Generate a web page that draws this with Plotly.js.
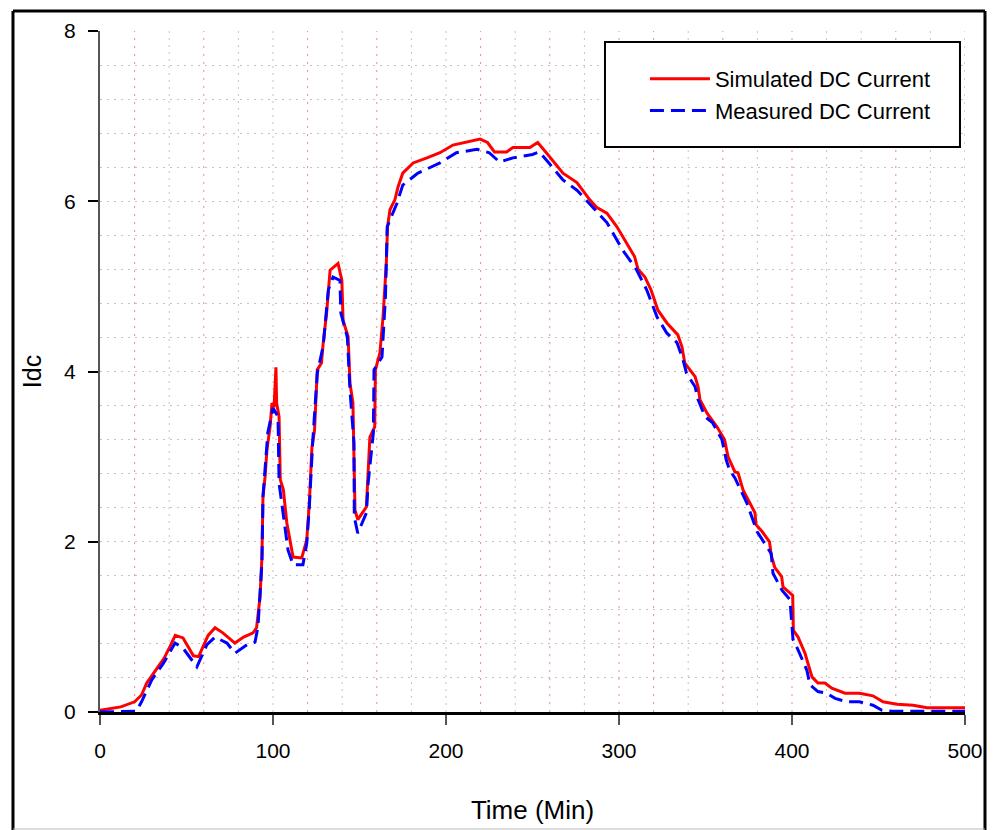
<!DOCTYPE html>
<html>
<head>
<meta charset="utf-8">
<script src="https://cdn.plot.ly/plotly-3.0.1.min.js"></script>
<style>html,body{margin:0;padding:0;background:#fff;}#chart{width:996px;height:830px;}</style>
</head>
<body>
<div id="chart"></div>
<script>
// Simulated DC Current (red, solid)
const simX = [0,12,20,24,27,32,37,40.5,43.5,48,
  54,57,62.5,66.5,71,78,83,88.5,90.5,92.5,
  93.6,94.2,95.4,96.5,98.3,99.4,100.6,101.7,102.1,103.5,
  104.2,106,108,111.6,116.6,119.5,121,122.5,124,125.6,
  128,129,131,133,137.6,139.8,140.5,143.4,144.5,146.2,
  147.4,149,154,156,158.8,159.2,161.8,163.6,165.5,166.2,
  167.6,170.5,172.3,175,181,189,196.5,204,212,219.7,
  224,228,235,238.7,248.5,253,258,267.6,275.7,283,
  287,293,298.8,304.6,309,311,315,318.5,322.5,327.7,
  334,336.4,338,341,344,345.7,346.8,350.9,356.6,361,
  363,367,368.8,371.7,374.6,378.6,379.2,382.7,387,388,
  390,394,394.8,400.4,400.8,403.5,407.5,409,411.6,415,
  419,423,430.6,439,446.8,452.6,460.7,470,478,500];
const simY = [0.02,0.06,0.12,0.2,0.34,0.49,0.63,0.77,0.9,0.87,
  0.66,0.65,0.9,0.99,0.93,0.81,0.88,0.93,0.99,1.35,
  1.82,2.53,2.76,3.08,3.35,3.63,3.58,4.05,3.63,3.47,
  2.73,2.61,2.22,1.82,1.81,2.02,2.45,3.11,3.31,4.02,
  4.1,4.33,4.69,5.19,5.27,5.07,4.6,4.41,3.86,3.63,
  2.37,2.26,2.41,3.23,3.35,4.02,4.22,4.64,5.27,5.7,
  5.9,6.02,6.17,6.33,6.45,6.51,6.57,6.66,6.70,6.73,
  6.69,6.58,6.58,6.63,6.63,6.69,6.57,6.33,6.22,6.02,
  5.93,5.86,5.7,5.51,5.35,5.2,5.11,4.96,4.72,4.57,
  4.43,4.29,4.1,4.02,3.94,3.82,3.67,3.51,3.35,3.2,
  3.0,2.82,2.81,2.61,2.49,2.34,2.2,2.12,2.0,1.84,
  1.70,1.59,1.47,1.37,0.96,0.88,0.69,0.59,0.41,0.34,
  0.34,0.28,0.22,0.22,0.19,0.12,0.09,0.08,0.05,0.05];

// Measured DC Current (blue, dashed)
const measX = [0,21,24,30,36.6,43.4,48,56,61.8,66.5,
  73.4,78,85,89.6,91.3,93.6,94.2,97,100,102.9,
  103.5,108.7,111.6,117.3,119.5,121,123,125.6,129,132,
  134.7,138.7,139.2,143,144.5,146.8,147,149,154,155,
  158,158.4,163,165,166,171.7,175,183.8,196.5,206,
  217.9,225,231,238.7,250,254,259,267.6,275.7,285,
  293,302,310,316,322,327.7,333.5,337,339,344,
  345.7,349.7,354,359.5,362,364,367,374,377.5,379.8,
  385.5,388,389,394.2,398.8,400.6,403.5,408.6,410.4,415,
  420,424.9,431.8,439,446.8,452,458,500];
const measY = [0,0.01,0.12,0.38,0.57,0.81,0.75,0.53,0.79,0.88,
  0.81,0.69,0.79,0.82,1.0,1.75,2.53,3.28,3.57,3.47,
  2.69,1.9,1.73,1.73,1.98,2.41,3.19,3.98,4.3,4.96,
  5.11,5.07,4.69,4.4,3.78,3.16,2.29,2.1,2.34,2.69,
  3.28,4.02,4.17,4.88,5.7,5.98,6.19,6.33,6.45,6.57,
  6.61,6.57,6.46,6.51,6.55,6.58,6.46,6.25,6.13,5.93,
  5.75,5.43,5.2,4.96,4.64,4.45,4.34,4.14,3.98,3.82,
  3.67,3.47,3.4,3.2,2.96,2.84,2.75,2.45,2.26,2.12,
  1.94,1.86,1.63,1.43,1.32,0.85,0.73,0.49,0.32,0.24,
  0.22,0.16,0.12,0.12,0.08,0.02,0.01,0.01];

const xTickVals = [0,100,200,300,400,500];
const yTickVals = [0,2,4,6,8];
const redGridX = [20,60,120,160,220,260,300,320,360,400,460,500];
const grayGridX = [40,80,100,140,180,200,240,280,340,380,420,440,480];

const FONT = 'Arial, "Liberation Sans", sans-serif';

const shapes = [];
grayGridX.forEach(v => shapes.push({type:'line', xref:'x', yref:'paper', x0:v, x1:v, y0:0, y1:1,
  layer:'below', line:{color:'#c4c4c4', width:1, dash:'2px,5px'}}));
redGridX.forEach(v => shapes.push({type:'line', xref:'x', yref:'paper', x0:v, x1:v, y0:0, y1:1,
  layer:'below', line:{color:'#ee8a8a', width:1, dash:'2px,6px'}}));
// legend box
shapes.push({type:'rect', xref:'paper', yref:'paper', x0:0.5838, x1:0.9942, y0:0.8297, y1:0.9839,
  layer:'above', fillcolor:'#ffffff', line:{color:'#000', width:2}});
// outer frame
shapes.push({type:'line', xref:'paper', yref:'paper', x0:-0.1006, x1:-0.1006, y0:-0.175, y1:1.0294, line:{color:'#000', width:3}});
shapes.push({type:'line', xref:'paper', yref:'paper', x0:-0.1006, x1:1.0231, y0:1.0294, y1:1.0294, line:{color:'#000', width:3}});
shapes.push({type:'line', xref:'paper', yref:'paper', x0:1.0231, x1:1.0231, y0:1.0294, y1:-0.175, line:{color:'#000', width:3}});
shapes.push({type:'line', xref:'paper', yref:'paper', x0:-0.1006, x1:1.0231, y0:-0.1718, y1:-0.1718, line:{color:'#bbb', width:1}});

const traces = [
  {x: simX, y: simY, type:'scatter', mode:'lines', name:'Simulated DC Current',
   line:{color:'#ff0000', width:3}},
  {x: measX, y: measY, type:'scatter', mode:'lines', name:'Measured DC Current',
   line:{color:'#0000ff', width:3, dash:'14px,7px'}}
];

const layout = {
  width: 996, height: 830,
  margin: {l:100, r:31, t:31, b:118, pad:0},
  paper_bgcolor:'#fff', plot_bgcolor:'#fff',
  font: {family: FONT, color:'#000'},
  showlegend: true,
  legend: {x:0.630, xanchor:'left', y:0.906, yanchor:'middle', bgcolor:'rgba(0,0,0,0)',
    borderwidth:0, itemwidth:60, font:{family:FONT, size:22, color:'#000'}},
  xaxis: {range:[0,500], tickvals:xTickVals, ticktext:xTickVals.map(String),
    showgrid:false, zeroline:false, showline:true, linecolor:'#000', linewidth:2.5,
    ticks:'outside', ticklen:10, tickwidth:2, tickcolor:'#555', ticklabelstandoff:8,
    tickfont:{family:FONT, size:21, color:'#000'},
    title:{text:'Time (Min)', font:{family:FONT, size:26, color:'#000'}, standoff:40}},
  yaxis: {range:[0,8], tickvals:yTickVals, ticktext:yTickVals.map(String),
    showgrid:true, gridcolor:'#c4c4c4', gridwidth:1, griddash:'2px,5px',
    minor:{dtick:0.4, tick0:0, showgrid:true, gridcolor:'#c4c4c4', gridwidth:1, griddash:'2px,5px', ticks:''},
    zeroline:false, showline:true, linecolor:'#555', linewidth:2,
    ticks:'outside', ticklen:10, tickwidth:2, tickcolor:'#000', ticklabelstandoff:8,
    tickfont:{family:FONT, size:21, color:'#000'},
    title:{text:'Idc', font:{family:FONT, size:25, color:'#000'}, standoff:15}},
  shapes: shapes
};

Plotly.newPlot('chart', traces, layout, {displayModeBar:false, staticPlot:true});
</script>
</body>
</html>
